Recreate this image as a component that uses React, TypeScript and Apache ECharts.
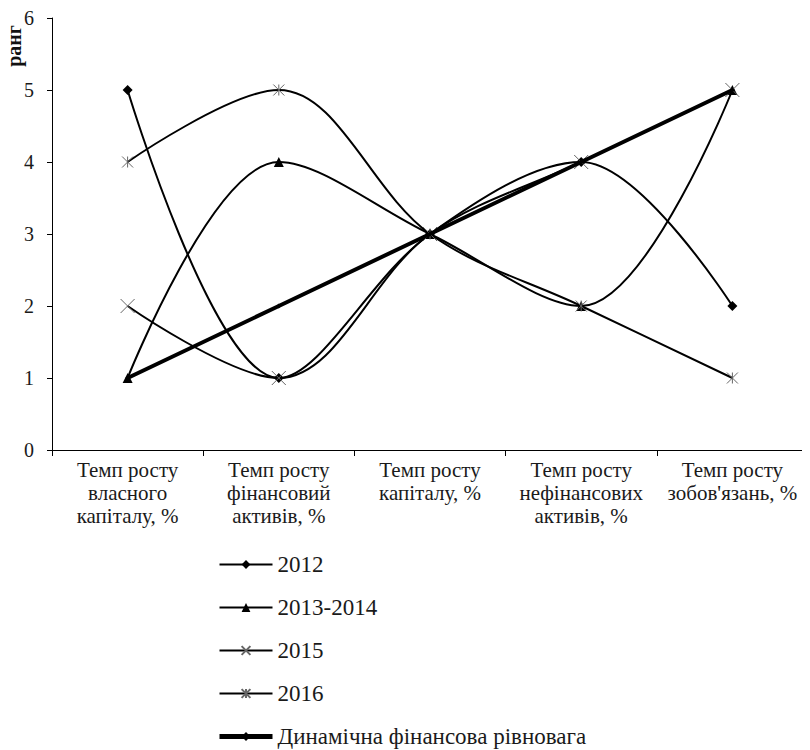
import React, { useEffect, useRef } from "react";
import * as echarts from "echarts";

const categories = [
  "Темп росту\nвласного\nкапіталу, %",
  "Темп росту\nфінансовий\nактивів, %",
  "Темп росту\nкапіталу, %",
  "Темп росту\nнефінансових\nактивів, %",
  "Темп росту\nзобов'язань, %",
];
const s2012 = [5, 1, 3, 4, 2];
const s2013 = [1, 4, 3, 2, 5];
const s2015 = [2, 1, 3, 4, 5];
const s2016 = [4, 5, 3, 2, 1];
const sDyn = [1, 2, 3, 4, 5];
const names = ["2012", "2013-2014", "2015", "2016", "Динамічна фінансова рівновага"];

const FONT = "Liberation Serif";
const X_PATH = "path://M0,0L10,10M10,0L0,10";
const AST_PATH = "path://M0,0L10,10M10,0L0,10M5,0L5,10";

export default function App() {
  const ref = useRef<HTMLDivElement>(null);
  useEffect(() => {
    if (!ref.current) return;
    const chart = echarts.init(ref.current, null, { renderer: "svg" });
    const thin = (name: string, data: number[], symbol: string, size: number, stroke: boolean) => ({
      name,
      type: "line",
      data,
      smooth: 0.35,
      symbol,
      symbolSize: size,
      lineStyle: { color: "#000", width: 2 },
      itemStyle: stroke
        ? { color: "#000", borderColor: "#666", borderWidth: 1 }
        : { color: "#000" },
      z: 3,
    });
    chart.setOption({
      animation: false,
      backgroundColor: "#fff",
      grid: { left: 52, right: 2, top: 18, bottom: 300, containLabel: false },
      xAxis: {
        type: "category",
        data: categories,
        boundaryGap: true,
        axisLine: { lineStyle: { color: "#000", width: 1 } },
        axisTick: { show: true, length: 6, lineStyle: { color: "#000" } },
        axisLabel: {
          interval: 0,
          fontFamily: FONT,
          fontSize: 21,
          color: "#1a1a1a",
          lineHeight: 23,
          margin: 8,
        },
      },
      yAxis: {
        type: "value",
        min: 0,
        max: 6,
        interval: 1,
        splitLine: { show: false },
        axisLine: { show: true, lineStyle: { color: "#000", width: 1 } },
        axisTick: { show: true, length: 5, lineStyle: { color: "#000" } },
        axisLabel: { fontFamily: FONT, fontSize: 20, color: "#1a1a1a", margin: 18 },
      },
      legend: {
        orient: "vertical",
        left: 217,
        top: 553,
        height: 260,
        padding: 0,
        itemWidth: 53,
        itemHeight: 11,
        itemGap: 20,
        textStyle: { fontFamily: FONT, fontSize: 23, lineHeight: 20, color: "#1a1a1a", padding: [0, 0, 0, 0] },
        data: [
          { name: names[0] },
          { name: names[1] },
          { name: names[2] },
          { name: names[3] },
          { name: names[4], lineStyle: { width: 5 } },
        ],
      },
      graphic: [
        {
          type: "text",
          x: 14,
          y: 46,
          rotation: Math.PI / 2,
          style: {
            text: "ранг",
            font: `bold 20px ${FONT}`,
            fill: "#111",
            align: "center",
            verticalAlign: "middle",
          },
        },
      ],
      series: [
        thin(names[0], s2012, "diamond", 10, false),
        thin(names[1], s2013, "triangle", 10, false),
        thin(names[2], s2015, X_PATH, 14, true),
        thin(names[3], s2016, AST_PATH, 11, true),
        {
          name: names[4],
          type: "line",
          data: sDyn,
          smooth: false,
          symbol: "diamond",
          symbolSize: 5,
          lineStyle: { color: "#000", width: 4 },
          itemStyle: { color: "#000" },
          z: 4,
        },
      ],
    });
    return () => chart.dispose();
  }, []);
  return <div ref={ref} style={{ width: 810, height: 750, marginLeft: -8, marginTop: -8 }} />;
}
